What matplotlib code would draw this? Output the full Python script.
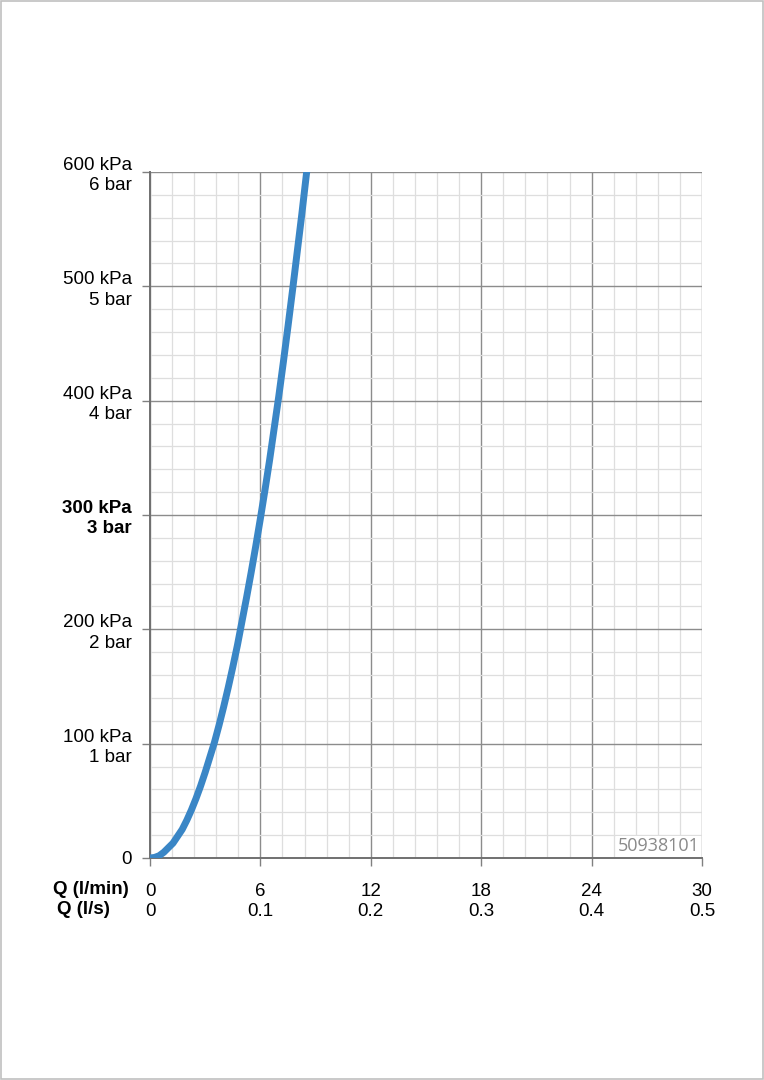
import matplotlib
matplotlib.use("Agg")
import matplotlib.pyplot as plt
from matplotlib.ticker import MultipleLocator
from matplotlib.patches import Rectangle

plt.rcParams['font.family'] = ['Liberation Sans', 'DejaVu Sans']

# Data
flow_lpm = [0, 0.25, 0.5, 0.75, 1, 1.25, 1.5, 1.75, 2, 2.25, 2.5, 2.75, 3, 3.25, 3.5,
            3.75, 4, 4.25, 4.5, 4.75, 5, 5.25, 5.5, 5.75, 6, 6.25, 6.5, 6.75, 7,
            7.25, 7.5, 7.75, 8, 8.25, 8.5, 8.6]
pressure_kpa = [0, 0.5, 2, 5, 9, 13, 19, 25, 33, 42, 52, 63, 75, 88, 101,
                116, 132, 149, 167, 186, 207, 228, 250, 273, 297, 322, 348, 376, 404,
                434, 465, 497, 530, 563, 598, 610]

x_ticks = [0, 6, 12, 18, 24, 30]
x_labels_lpm = ['0', '6', '12', '18', '24', '30']
x_labels_lps = ['0', '0.1', '0.2', '0.3', '0.4', '0.5']
y_ticks = [0, 100, 200, 300, 400, 500, 600]
y_labels = ['0', '100 kPa\n1 bar', '200 kPa\n2 bar', '300 kPa\n3 bar',
            '400 kPa\n4 bar', '500 kPa\n5 bar', '600 kPa\n6 bar']
watermark = '50938101'

fig = plt.figure(figsize=(7.64, 10.8), dpi=100)
fig.patches.append(Rectangle((0.001, 0.001), 0.998, 0.998, transform=fig.transFigure,
                             fill=False, edgecolor='#c0c0c0', linewidth=1.2))

ax = fig.add_axes([150/764, 1-858/1080, 552/764, 686/1080])
ax.set_xlim(0, 30)
ax.set_ylim(0, 600)

ax.xaxis.set_minor_locator(MultipleLocator(1.2))
ax.yaxis.set_minor_locator(MultipleLocator(20))
ax.grid(which='minor', color='#dedede', linewidth=0.9)
ax.grid(which='major', color='#8c8c8c', linewidth=1.0)
ax.set_axisbelow(True)

for s in ['top', 'right']:
    ax.spines[s].set_visible(False)
for s in ['left', 'bottom']:
    ax.spines[s].set_color('#707070')
    ax.spines[s].set_linewidth(1.4)

ax.plot(flow_lpm, pressure_kpa, color='#3a86c6', linewidth=5,
        solid_capstyle='round', solid_joinstyle='round', zorder=5)

ax.set_xticks(x_ticks)
ax.set_xticklabels([f'{a}\n{b}' for a, b in zip(x_labels_lpm, x_labels_lps)],
                   fontsize=13.5, linespacing=1.25)
ax.set_yticks(y_ticks)
ylabs = ax.set_yticklabels(y_labels, fontsize=13.5, linespacing=1.25,
                           multialignment='right')
ylabs[3].set_fontweight('bold')
ax.tick_params(axis='both', which='major', length=6, width=1.0, color='#808080')
ax.tick_params(axis='x', pad=12)
ax.tick_params(axis='y', pad=7)
ax.tick_params(which='minor', length=0)

fig.text(53/764, 1-889/1080, 'Q (l/min)', fontsize=13.5, fontweight='bold',
         ha='left', va='center')
fig.text(57/764, 1-910/1080, 'Q (l/s)', fontsize=13.5, fontweight='bold',
         ha='left', va='center')

ax.text(0.995, 0.004, watermark, transform=ax.transAxes, ha='right', va='bottom',
        fontsize=13, color='#8a8a8a', family=['Open Sans', 'DejaVu Sans'],
        bbox=dict(facecolor='white', edgecolor='none', pad=1))

fig.savefig('out.png', dpi=100, facecolor='white')
